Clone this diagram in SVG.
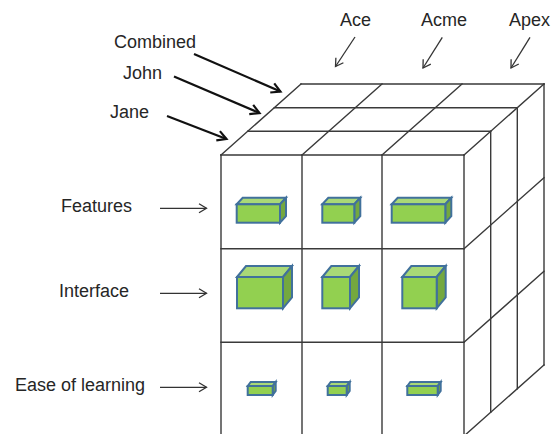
<svg xmlns="http://www.w3.org/2000/svg" width="551" height="434" viewBox="0 0 551 434">
  <style>
    .grid { stroke: #3a3a3a; stroke-width: 1.4; fill: none; stroke-linecap: square; }
    .lbl { font-family: "Liberation Sans", Arial, sans-serif; font-size: 18px; fill: #262626; }
    .bar { stroke: #41719c; stroke-width: 2; stroke-linejoin: miter; }
    .front { fill: #92d050; }
    .top { fill: #a9d977; }
    .side { fill: #74a83f; }
    .thin { stroke: #333; stroke-width: 1.3; fill: none; }
    .bold { stroke: #111; stroke-width: 2.2; fill: none; }
  </style>
  <defs>
    <marker id="openThin" markerUnits="userSpaceOnUse" markerWidth="14" markerHeight="14" viewBox="-10 -7 12 14" refX="0" refY="0" orient="auto">
      <path d="M -7.5 -4.5 L 0 0 L -7.5 4.5" fill="none" stroke="#333" stroke-width="1.3"/>
    </marker>
    <marker id="openBold" markerUnits="userSpaceOnUse" markerWidth="16" markerHeight="16" viewBox="-12 -8 14 16" refX="0" refY="0" orient="auto">
      <path d="M -9 -5 L 0 0 L -9 5" fill="none" stroke="#111" stroke-width="2.2"/>
    </marker>
  </defs>

  <rect width="551" height="434" fill="#ffffff"/>

  <!-- 3x3x3 cube wireframe -->
  <g id="cube" class="grid">
    <!-- front face -->
    <path d="M221 155V436M302 155V436M382 155V436M464 155V436"/>
    <path d="M221 155H464M221 248.7H464M221 342.3H464"/>
    <!-- top face -->
    <path d="M247.7 131.3H490.7M274.3 107.7H517.3M301 84H544"/>
    <path d="M221 155L301 84M302 155L382 84M382 155L462 84M464 155L544 84"/>
    <!-- right face -->
    <path d="M490.7 131.3V412.3M517.3 107.7V388.7M544 84V365"/>
    <path d="M464 248.7L544 177.7M464 342.3L544 271.3M464 436L544 365"/>
  </g>

  <!-- Features row -->
  <g id="features-ace">
    <polygon class="top bar" points="236.7,204.3 242.7,197.8 286,197.8 280,204.3"/>
    <polygon class="side bar" points="280,204.3 286,197.8 286,216.2 280,222.7"/>
    <rect class="front bar" x="236.7" y="204.3" width="43.3" height="18.4"/>
  </g>
  <g id="features-acme">
    <polygon class="top bar" points="322.3,204.3 328.3,197.8 360.3,197.8 354.3,204.3"/>
    <polygon class="side bar" points="354.3,204.3 360.3,197.8 360.3,216.2 354.3,222.7"/>
    <rect class="front bar" x="322.3" y="204.3" width="32" height="18.4"/>
  </g>
  <g id="features-apex">
    <polygon class="top bar" points="391.7,204.3 397.7,197.8 451.3,197.8 445.3,204.3"/>
    <polygon class="side bar" points="445.3,204.3 451.3,197.8 451.3,216.2 445.3,222.7"/>
    <rect class="front bar" x="391.7" y="204.3" width="53.6" height="18.4"/>
  </g>

  <!-- Interface row -->
  <g id="interface-ace">
    <polygon class="top bar" points="237,277 246,266 292,266 283,277"/>
    <polygon class="side bar" points="283,277 292,266 292,297.3 283,308.3"/>
    <rect class="front bar" x="237" y="277" width="46" height="31.3"/>
  </g>
  <g id="interface-acme">
    <polygon class="top bar" points="322.3,277 331.3,266 359,266 350,277"/>
    <polygon class="side bar" points="350,277 359,266 359,297.3 350,308.3"/>
    <rect class="front bar" x="322.3" y="277" width="27.7" height="31.3"/>
  </g>
  <g id="interface-apex">
    <polygon class="top bar" points="402.3,277 411.3,266 445.7,266 436.7,277"/>
    <polygon class="side bar" points="436.7,277 445.7,266 445.7,297.3 436.7,308.3"/>
    <rect class="front bar" x="402.3" y="277" width="34.4" height="31.3"/>
  </g>

  <!-- Ease of learning row -->
  <g id="ease-ace">
    <polygon class="top bar" points="247.7,386 250.7,382 275.7,382 272.7,386"/>
    <polygon class="side bar" points="272.7,386 275.7,382 275.7,391 272.7,395"/>
    <rect class="front bar" x="247.7" y="386" width="25" height="9"/>
  </g>
  <g id="ease-acme">
    <polygon class="top bar" points="327.7,386 330.7,382 349.7,382 346.7,386"/>
    <polygon class="side bar" points="346.7,386 349.7,382 349.7,391 346.7,395"/>
    <rect class="front bar" x="327.7" y="386" width="19" height="9"/>
  </g>
  <g id="ease-apex">
    <polygon class="top bar" points="407.3,386 410.3,382 440.7,382 437.7,386"/>
    <polygon class="side bar" points="437.7,386 440.7,382 440.7,391 437.7,395"/>
    <rect class="front bar" x="407.3" y="386" width="30.4" height="9"/>
  </g>

  <!-- Labels -->
  <g id="label-ace"><text class="lbl" x="340" y="26">Ace</text></g>
  <g id="label-acme"><text class="lbl" x="421" y="26">Acme</text></g>
  <g id="label-apex"><text class="lbl" x="509" y="26">Apex</text></g>
  <g id="label-combined"><text class="lbl" x="114" y="48">Combined</text></g>
  <g id="label-john"><text class="lbl" x="123" y="79">John</text></g>
  <g id="label-jane"><text class="lbl" x="110" y="118">Jane</text></g>
  <g id="label-features"><text class="lbl" x="61" y="212">Features</text></g>
  <g id="label-interface"><text class="lbl" x="59" y="297">Interface</text></g>
  <g id="label-ease"><text class="lbl" x="15" y="391">Ease of learning</text></g>

  <!-- Connectors -->
  <g id="connectors">
    <line class="thin" x1="355" y1="37" x2="335.5" y2="66.5" marker-end="url(#openThin)"/>
    <line class="thin" x1="442.3" y1="37.3" x2="423" y2="68" marker-end="url(#openThin)"/>
    <line class="thin" x1="530" y1="37.3" x2="511" y2="68" marker-end="url(#openThin)"/>

    <line class="bold" x1="194" y1="54" x2="280.5" y2="91.5" marker-end="url(#openBold)"/>
    <line class="bold" x1="174" y1="76.5" x2="259.5" y2="113" marker-end="url(#openBold)"/>
    <line class="bold" x1="167" y1="116" x2="226.5" y2="139" marker-end="url(#openBold)"/>

    <line class="thin" x1="160" y1="208.3" x2="206.5" y2="208.3" marker-end="url(#openThin)"/>
    <line class="thin" x1="160" y1="293.3" x2="206.5" y2="293.3" marker-end="url(#openThin)"/>
    <line class="thin" x1="160" y1="387.3" x2="206.5" y2="387.3" marker-end="url(#openThin)"/>
  </g>
</svg>
